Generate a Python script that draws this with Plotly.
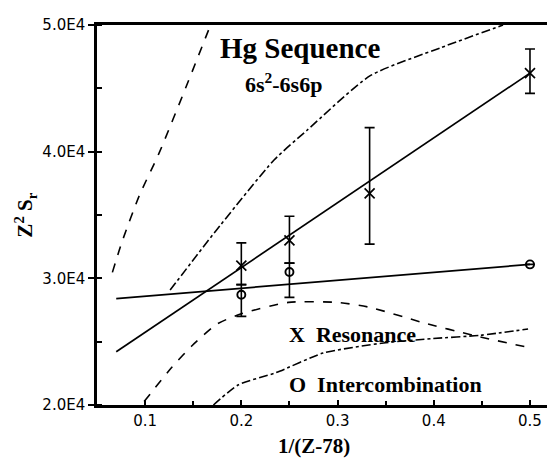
import plotly.graph_objects as go

# Resonance (X) data
res_x = [0.2, 0.25, 1/3, 0.5]
res_y = [31000, 33000, 36700, 46200]
res_err_plus = [1800, 1900, 5200, 1900]
res_err_minus = [1500, 1800, 4000, 1600]

# Intercombination (O) data
int_x = [0.2, 0.25, 0.5]
int_y = [28700, 30500, 31100]
int_err_plus = [800, 700, 0]
int_err_minus = [1700, 2000, 0]

# Linear fits
res_fit_x = [0.07, 0.5]
res_fit_y = [24200, 46200]
int_fit_x = [0.07, 0.5]
int_fit_y = [28400, 31100]

# Theory curves
curveA_x = [0.066, 0.076, 0.094, 0.1145, 0.1425, 0.168]
curveA_y = [30470, 32880, 36540, 39880, 45100, 50000]
curveB_x = [0.126, 0.172, 0.234, 0.268, 0.334, 0.407, 0.472]
curveB_y = [29070, 33600, 39340, 41670, 46000, 48200, 50000]
curveC_x = [0.099, 0.128, 0.149, 0.175, 0.2, 0.249, 0.30, 0.334, 0.389, 0.441, 0.498]
curveC_y = [20270, 23000, 24700, 26400, 27200, 28100, 28100, 27700, 26500, 25500, 24550]
curveD_x = [0.171, 0.197, 0.236, 0.285, 0.348, 0.3995, 0.448, 0.498]
curveD_y = [20000, 21600, 22550, 24100, 24900, 25250, 25500, 26000]

y_tickvals = [20000, 30000, 40000, 50000]
y_ticktext = ["2.0E4", "3.0E4", "4.0E4", "5.0E4"]
x_tickvals = [0.1, 0.2, 0.3, 0.4, 0.5]
x_ticktext = ["0.1", "0.2", "0.3", "0.4", "0.5"]

fig = go.Figure()

for cx, cy, dash in [(curveA_x, curveA_y, "dash"), (curveB_x, curveB_y, "dashdot"),
                     (curveC_x, curveC_y, "dash"), (curveD_x, curveD_y, "dashdot")]:
    fig.add_trace(go.Scatter(x=cx, y=cy, mode="lines",
                             line=dict(color="black", width=1.6, dash=dash, shape="spline", smoothing=0.6),
                             showlegend=False, hoverinfo="skip"))

fig.add_trace(go.Scatter(x=res_fit_x, y=res_fit_y, mode="lines",
                         line=dict(color="black", width=1.7), showlegend=False))
fig.add_trace(go.Scatter(x=int_fit_x, y=int_fit_y, mode="lines",
                         line=dict(color="black", width=1.7), showlegend=False))

fig.add_trace(go.Scatter(x=res_x, y=res_y, mode="markers",
                         marker=dict(symbol="x-thin-open", size=10, color="black",
                                     line=dict(color="black", width=1.7)),
                         error_y=dict(type="data", symmetric=False, array=res_err_plus,
                                      arrayminus=res_err_minus, color="black", thickness=1.6, width=5),
                         showlegend=False))
fig.add_trace(go.Scatter(x=int_x, y=int_y, mode="markers",
                         marker=dict(symbol="circle-open", size=8, color="black",
                                     line=dict(color="black", width=1.9)),
                         error_y=dict(type="data", symmetric=False, array=int_err_plus,
                                      arrayminus=int_err_minus, color="black", thickness=1.6, width=5),
                         showlegend=False))

serif = "Liberation Serif"
annos = [
    dict(x=0.1757, y=48200, text="<b>Hg Sequence</b>", size=29),
    dict(x=0.2020, y=45400, text="<b>6s<sup>2</sup>-6s6p</b>", size=22),
    dict(x=0.2474, y=25600, text="<b>X  Resonance</b>", size=22),
    dict(x=0.2474, y=21600, text="<b>O  Intercombination</b>", size=22),
]
for a in annos:
    fig.add_annotation(x=a["x"], y=a["y"], xref="x", yref="y", text=a["text"], showarrow=False,
                       xanchor="left", yanchor="middle", font=dict(family=serif, size=a["size"], color="black"))

fig.add_annotation(x=0.474, y=-0.109, xref="paper", yref="paper", text="<b>1/(Z-78)</b>", showarrow=False,
                   xanchor="center", yanchor="middle", font=dict(family=serif, size=21, color="black"))
fig.add_annotation(x=-0.158, y=0.50, xref="paper", yref="paper", text="<b>Z<sup>2</sup> S<sub>r</sub></b>",
                   showarrow=False, textangle=-90, xanchor="center", yanchor="middle",
                   font=dict(family=serif, size=21, color="black"))

fig.update_xaxes(range=[0.05, 0.526], showline=True, linewidth=2.5, linecolor="black", mirror=True,
                 showgrid=False, zeroline=False, tickvals=x_tickvals, ticktext=x_ticktext,
                 ticks="inside", ticklen=5, tickwidth=1.5, tickcolor="black",
                 minor=dict(ticks="inside", dtick=0.05, tick0=0, ticklen=4, tickwidth=1.5, tickcolor="black"),
                 tickfont=dict(family="DejaVu Sans", size=15, color="black"))
fig.update_yaxes(range=[20000, 50000], showline=True, linewidth=2.5, linecolor="black", mirror=False,
                 showgrid=False, zeroline=False, tickvals=y_tickvals, ticktext=y_ticktext,
                 ticks="outside", ticklen=6, tickwidth=1.5, tickcolor="black",
                 minor=dict(ticks="inside", dtick=5000, tick0=0, ticklen=5, tickwidth=1.5, tickcolor="black"),
                 tickfont=dict(family="DejaVu Sans", size=15, color="black"))

# page body adds an 8px offset; compensate so plot area lands at (97..555, 20..405)
fig.update_layout(width=555, height=466, margin=dict(l=89, r=8, t=12, b=69),
                  plot_bgcolor="white", paper_bgcolor="white", showlegend=False)

fig.write_html("out.html")
